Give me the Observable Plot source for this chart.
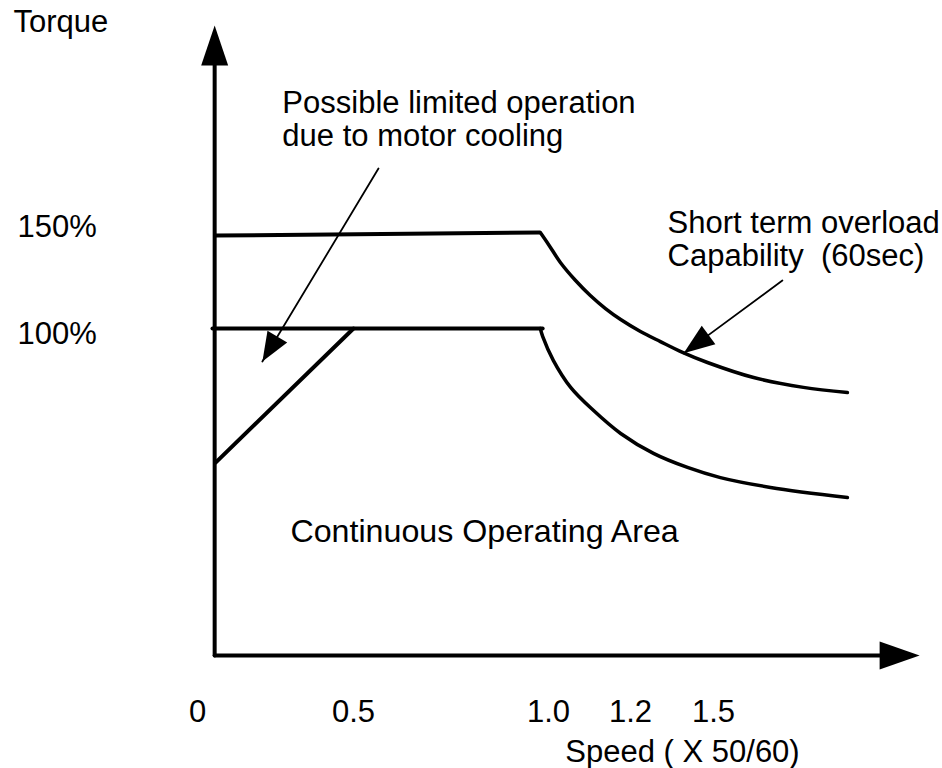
<!DOCTYPE html>
<html>
<head>
<meta charset="utf-8">
<script src="https://cdn.jsdelivr.net/npm/d3@7"></script>
<script src="https://cdn.jsdelivr.net/npm/@observablehq/plot@0.6"></script>
<style>
  body { margin: 0; background: #fff; }
  #chart svg { display: block; }
</style>
</head>
<body>
<div id="chart"></div>
<script>
// ---- Tick values and labels ----
const speedTicks = [0, 0.5, 1.0, 1.2, 1.5];
const speedTickLabels = ["0", "0.5", "1.0", "1.2", "1.5"];
const torqueLevels = [0, 100, 150];
const torqueTickLabels = ["150%", "100%"];

// ---- Axis extents (speed, torque %) ----
const axisSpeed = 0.055;     // speed where the torque axis stands
const torqueAxisTop = 257.8; // tip of torque axis arrow
const speedAxisEnd = 2.245;  // tip of speed axis arrow

// ---- 150% short-term overload level and its fall-off curve ----
const overloadLevelSpeed = [0.058, 0.977];
const overloadLevelTorque = [148.4, 150];
const overloadCurveSpeed = [0.979, 1.0, 1.029, 1.066, 1.102, 1.139, 1.176, 1.236, 1.308, 1.388, 1.478, 1.645, 1.825, 1.984];
const overloadCurveTorque = [150, 143.8, 134.4, 125.0, 117.2, 110.4, 104.7, 99.1, 96.0, 92.7, 89.6, 85.0, 82.0, 80.4];

// ---- 100% continuous level and its fall-off curve ----
const ratedLevelSpeed = [0.048, 0.985];
const ratedLevelTorque = [100, 100];
const ratedCurveSpeed = [0.979, 0.985, 1.012, 1.054, 1.110, 1.176, 1.283, 1.406, 1.525, 1.706, 1.984];
const ratedCurveTorque = [100, 97.6, 90.2, 82.0, 74.9, 67.9, 61.8, 57.5, 54.4, 51.4, 48.3];

// ---- Cooling-limited ramp ----
const coolingSpeed = [0.058, 0.5];
const coolingTorque = [59.0, 100];

// ---- Annotation arrows [start, tip] ----
const coolingArrowSpeed = [0.564, 0.208];
const coolingArrowTorque = [183.3, 89.9];
const overloadArrowSpeed = [1.749, 1.392];
const overloadArrowTorque = [125, 92.4];

// ---- Scales ----
const xOpts = {type: "linear", domain: speedTicks, range: [197, 353, 548, 630, 713]};
const yOpts = {type: "linear", domain: torqueLevels, range: [655, 328, 232]};
const xs = Plot.scale({x: xOpts});
const ys = Plot.scale({y: yOpts});

const FONT = "Liberation Sans, Arial, Helvetica, sans-serif";
const FS = 31;

// filled arrowhead symbol, tip at the point, pointing along travel direction
function headSymbol(sx0, sy0, sx1, sy1, w, L) {
  const a = Math.atan2(ys.apply(sy1) - ys.apply(sy0), xs.apply(sx1) - xs.apply(sx0));
  const dx = Math.cos(a), dy = Math.sin(a);
  const bx = -L * dx, by = -L * dy, nx = -dy * w / 2, ny = dx * w / 2;
  return {
    draw(ctx) {
      ctx.moveTo(0, 0);
      ctx.lineTo(bx + nx, by + ny);
      ctx.lineTo(bx - nx, by - ny);
      ctx.closePath();
    }
  };
}

const label = (str, x, y, opts = {}) =>
  Plot.text([str], {x, y, text: d => d, textAnchor: "start", lineAnchor: "bottom",
    fontSize: FS, fontFamily: FONT, fill: "black", ...opts});

const idx = a => a.map((_, i) => i);

const marks = [
  // torque axis
  Plot.line([0, 1], {x: [axisSpeed, axisSpeed], y: [0, torqueAxisTop - 15], stroke: "black", strokeWidth: 4}),
  Plot.dot([0], {x: axisSpeed, y: torqueAxisTop, r: 10, fill: "black", stroke: "none",
    symbol: headSymbol(axisSpeed, 0, axisSpeed, torqueAxisTop, 27, 40)}),
  // speed axis
  Plot.line([0, 1], {x: [axisSpeed, speedAxisEnd - 0.08], y: [0, 0], stroke: "black", strokeWidth: 4, strokeLinecap: "round"}),
  Plot.dot([0], {x: speedAxisEnd, y: 0, r: 10, fill: "black", stroke: "none",
    symbol: headSymbol(axisSpeed, 0, speedAxisEnd, 0, 28, 40)}),

  // 150% overload level and curve
  Plot.line(idx(overloadLevelSpeed), {x: overloadLevelSpeed, y: overloadLevelTorque, stroke: "black", strokeWidth: 4}),
  Plot.line(idx(overloadCurveSpeed), {x: overloadCurveSpeed, y: overloadCurveTorque, stroke: "black", strokeWidth: 3.5,
    curve: "catmull-rom", strokeLinecap: "round"}),
  // 100% level and curve
  Plot.line(idx(ratedLevelSpeed), {x: ratedLevelSpeed, y: ratedLevelTorque, stroke: "black", strokeWidth: 4, strokeLinecap: "round"}),
  Plot.line(idx(ratedCurveSpeed), {x: ratedCurveSpeed, y: ratedCurveTorque, stroke: "black", strokeWidth: 3.5,
    curve: "catmull-rom", strokeLinecap: "round"}),
  // cooling ramp
  Plot.line(idx(coolingSpeed), {x: coolingSpeed, y: coolingTorque, stroke: "black", strokeWidth: 4}),

  // annotation arrows
  Plot.line([0, 1], {x: coolingArrowSpeed, y: coolingArrowTorque, stroke: "black", strokeWidth: 1.8}),
  Plot.dot([0], {x: coolingArrowSpeed[1], y: coolingArrowTorque[1], r: 10, fill: "black", stroke: "none",
    symbol: headSymbol(coolingArrowSpeed[0], coolingArrowTorque[0], coolingArrowSpeed[1], coolingArrowTorque[1], 23, 29)}),
  Plot.line([0, 1], {x: overloadArrowSpeed, y: overloadArrowTorque, stroke: "black", strokeWidth: 1.8}),
  Plot.dot([0], {x: overloadArrowSpeed[1], y: overloadArrowTorque[1], r: 10, fill: "black", stroke: "none",
    symbol: headSymbol(overloadArrowSpeed[0], overloadArrowTorque[0], overloadArrowSpeed[1], overloadArrowTorque[1], 23, 31)}),

  // texts
  label("Torque", -0.590, 254.2),
  Plot.text(torqueTickLabels, {x: -0.577, y: [147.9, 95.4], text: d => d, textAnchor: "start", lineAnchor: "bottom",
    fontSize: FS, fontFamily: FONT, fill: "black"}),
  Plot.text(speedTickLabels, {x: speedTicks, y: -20.2, text: d => d, textAnchor: "middle", lineAnchor: "bottom",
    fontSize: FS, fontFamily: FONT, fill: "black"}),
  label("Speed ( X 50/60)", 1.041, -32.7),
  label("Possible limited operation\ndue to motor cooling", 0.272, 195.3, {lineHeight: 1.065}),
  label("Short term overload\nCapability \u00a0(60sec)", 1.334, 132.8, {lineHeight: 1.065}),
  label("Continuous Operating Area", 0.298, 34.6, {fontSize: 32.2})
];

const chart = Plot.plot({
  width: 942,
  height: 768,
  margin: 0,
  x: {...xOpts, axis: null},
  y: {...yOpts, axis: null},
  marks
});
document.getElementById("chart").appendChild(chart);
</script>
</body>
</html>
